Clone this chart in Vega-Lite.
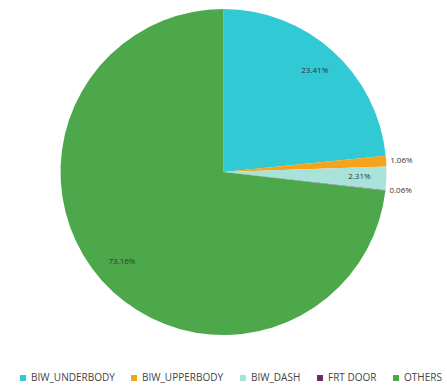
{
  "$schema": "https://vega.github.io/schema/vega-lite/v6.json",
  "width": 447,
  "height": 344,
  "padding": 0,
  "background": "white",
  "data": {
    "values": [
      {"category": "BIW_UNDERBODY", "value": 23.41, "idx": 1},
      {"category": "BIW_UPPERBODY", "value": 1.06, "idx": 2},
      {"category": "BIW_DASH", "value": 2.31, "idx": 3},
      {"category": "FRT DOOR", "value": 0.06, "idx": 4},
      {"category": "OTHERS", "value": 73.16, "idx": 5}
    ]
  },
  "transform": [
    {"stack": "value", "groupby": [], "sort": [{"field": "idx", "order": "ascending"}], "as": ["v0", "v1"]},
    {"calculate": "(datum.v0 + datum.v1) / 2", "as": "mid"},
    {"calculate": "format(datum.value, '.2f') + '%'", "as": "label"}
  ],
  "layer": [
    {
      "mark": {"type": "arc", "outerRadius": 163},
      "encoding": {
        "theta": {"field": "v0", "type": "quantitative", "scale": {"domain": [0, 100], "zero": true}},
        "theta2": {"field": "v1"},
        "color": {
          "field": "category",
          "type": "nominal",
          "sort": ["BIW_UNDERBODY", "BIW_UPPERBODY", "BIW_DASH", "FRT DOOR", "OTHERS"],
          "scale": {
            "domain": ["BIW_UNDERBODY", "BIW_UPPERBODY", "BIW_DASH", "FRT DOOR", "OTHERS"],
            "range": ["#30C9D4", "#F5A31B", "#A8E2D9", "#6A2A6C", "#4CA84B"]
          },
          "legend": {
            "title": null,
            "orient": "none",
            "direction": "horizontal",
            "legendX": 18,
            "legendY": 373,
            "symbolType": "square",
            "symbolSize": 36,
            "symbolStrokeWidth": 0,
            "labelFont": "Open Sans",
            "labelFontSize": 10,
            "labelColor": "#444444",
            "labelOffset": 3,
            "columnPadding": 14
          }
        }
      }
    },
    {
      "transform": [{"filter": "datum.value >= 2"}],
      "mark": {"type": "text", "radius": 136, "font": "Open Sans", "fontSize": 8, "color": "#333333"},
      "encoding": {
        "theta": {"field": "mid", "type": "quantitative", "scale": {"domain": [0, 100], "zero": true}},
        "text": {"field": "label"}
      }
    },
    {
      "transform": [{"filter": "datum.value < 2"}],
      "mark": {"type": "text", "radius": 167, "align": "left", "font": "Open Sans", "fontSize": 8, "color": "#333333"},
      "encoding": {
        "theta": {"field": "mid", "type": "quantitative", "scale": {"domain": [0, 100], "zero": true}},
        "text": {"field": "label"}
      }
    }
  ],
  "config": {"view": {"stroke": null}}
}
